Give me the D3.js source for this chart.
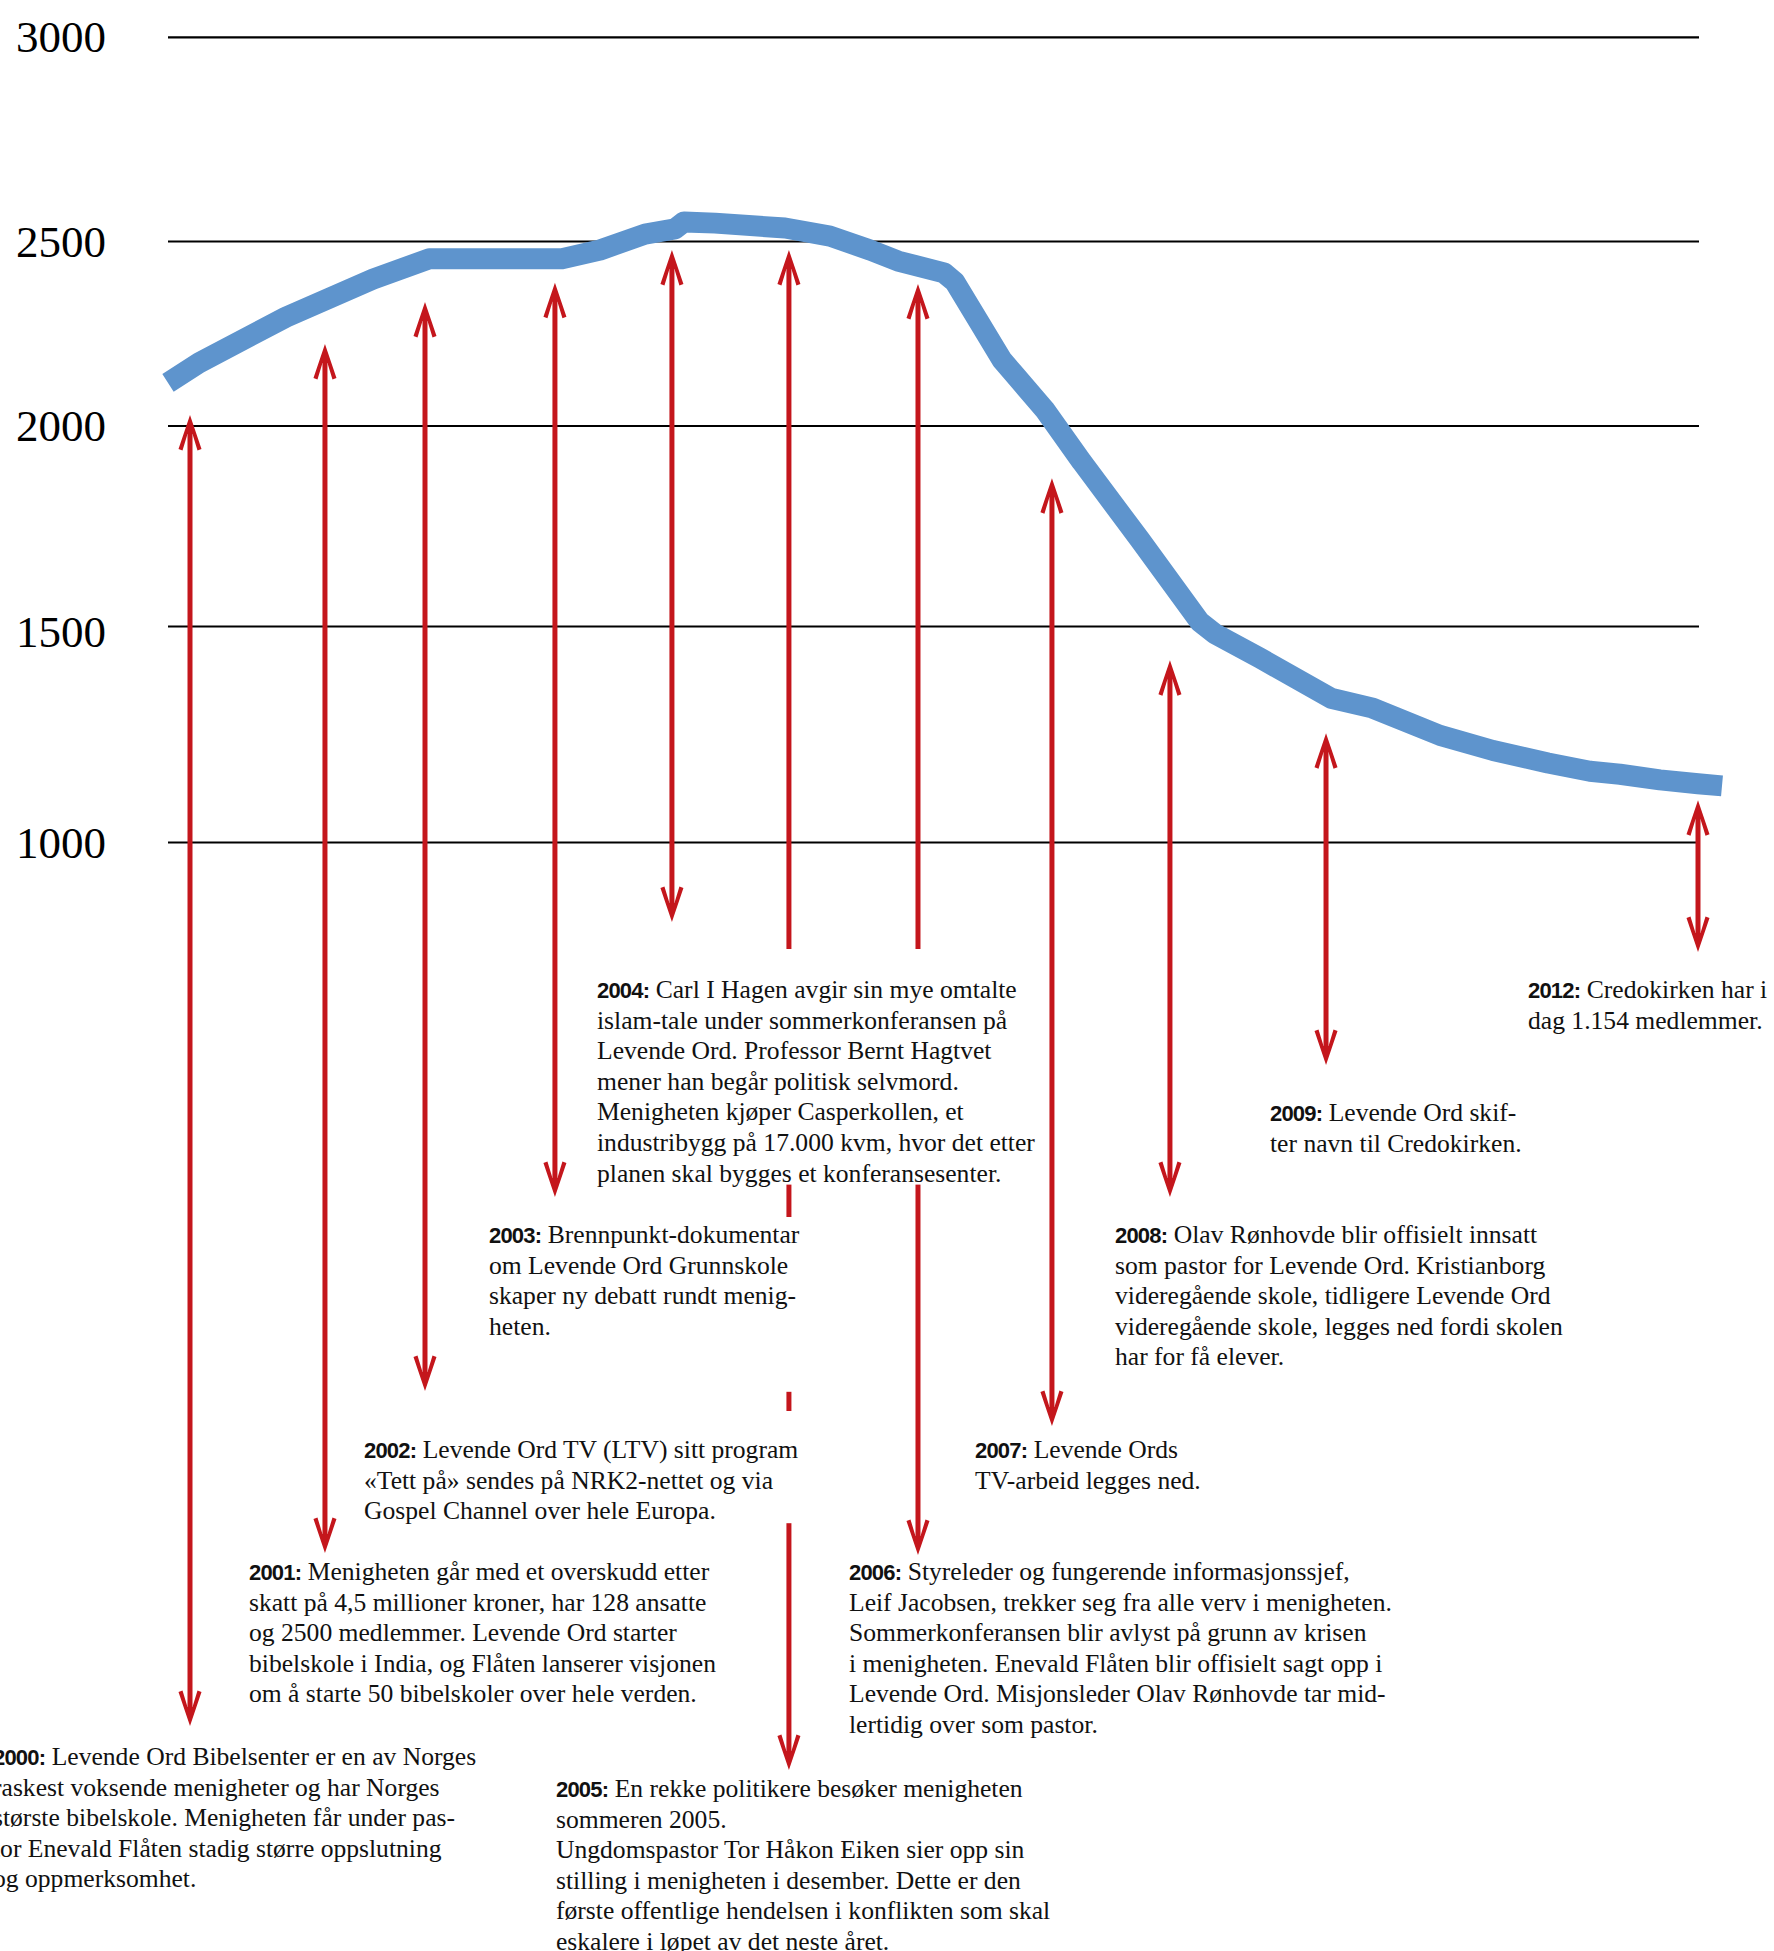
<!DOCTYPE html>
<html><head><meta charset="utf-8">
<script src="https://cdn.jsdelivr.net/npm/d3@7"></script>
<style>html,body{margin:0;padding:0;background:#fff;overflow:hidden}</style>
</head><body>
<svg id="chart" width="1774" height="1951"></svg>
<script>
// ---------------- DATA ----------------
const yTicks = [1000, 1500, 2000, 2500, 3000];

// membership curve (year, members)
const lineYears = [1999.825, 2000.072, 2000.764, 2001.456, 2001.902, 2002.960, 2003.263, 2003.621,
  2003.859, 2003.931, 2004.178, 2004.735, 2005.093, 2005.411, 2005.634, 2006.000, 2006.087,
  2006.270, 2006.461, 2006.557, 2006.804, 2007.098, 2007.560, 2008.037, 2008.156, 2008.514,
  2009.079, 2009.413, 2009.947, 2010.369, 2010.806, 2011.140, 2011.379, 2011.697, 2012.000, 2012.191];
const lineMembers = [2117, 2171, 2295, 2398, 2453, 2453, 2477, 2518,
  2531, 2548, 2545, 2533, 2513, 2477, 2447, 2415, 2390,
  2287, 2179, 2141, 2043, 1910, 1716, 1511, 1483, 1427,
  1334, 1311, 1248, 1213, 1184, 1165, 1158, 1145, 1136, 1131];

const eventYears = ["2000", "2001", "2002", "2003", "2004", "2005", "2006", "2007", "2008", "2009", "2012"];
// where each arrow stands on the time axis, and the member level its upper tip reaches
const arrowYears = [2000.000, 2001.074, 2001.870, 2002.904, 2003.835, 2004.766, 2005.793, 2006.859, 2007.798, 2009.040, 2012.000];
const arrowTopMembers = [2030, 2222, 2336, 2388, 2477, 2477, 2385, 1870, 1422, 1253, 1098];

const eventTexts = [
  ["Levende Ord Bibelsenter er en av Norges", "raskest voksende menigheter og har Norges", "største bibelskole. Menigheten får under pas-", "tor Enevald Flåten stadig større oppslutning", "og oppmerksomhet."],
  ["Menigheten går med et overskudd etter", "skatt på 4,5 millioner kroner, har 128 ansatte", "og 2500 medlemmer. Levende Ord starter", "bibelskole i India, og Flåten lanserer visjonen", "om å starte 50 bibelskoler over hele verden."],
  ["Levende Ord TV (LTV) sitt program", "«Tett på» sendes på NRK2-nettet og via", "Gospel Channel over hele Europa."],
  ["Brennpunkt-dokumentar", "om Levende Ord Grunnskole", "skaper ny debatt rundt menig-", "heten."],
  ["Carl I Hagen avgir sin mye omtalte", "islam-tale under sommerkonferansen på", "Levende Ord. Professor Bernt Hagtvet", "mener han begår politisk selvmord.", "Menigheten kjøper Casperkollen, et", "industribygg på 17.000 kvm, hvor det etter", "planen skal bygges et konferansesenter."],
  ["En rekke politikere besøker menigheten", "sommeren 2005.", "Ungdomspastor Tor Håkon Eiken sier opp sin", "stilling i menigheten i desember. Dette er den", "første offentlige hendelsen i konflikten som skal", "eskalere i løpet av det neste året."],
  ["Styreleder og fungerende informasjonssjef,", "Leif Jacobsen, trekker seg fra alle verv i menigheten.", "Sommerkonferansen blir avlyst på grunn av krisen", "i menigheten. Enevald Flåten blir offisielt sagt opp i", "Levende Ord. Misjonsleder Olav Rønhovde tar mid-", "lertidig over som pastor."],
  ["Levende Ords", "TV-arbeid legges ned."],
  ["Olav Rønhovde blir offisielt innsatt", "som pastor for Levende Ord.  Kristianborg", "videregående skole, tidligere Levende Ord", "videregående skole, legges ned fordi skolen", "har for få elever."],
  ["Levende Ord skif-", "ter navn til Credokirken."],
  ["Credokirken har i", "dag 1.154 medlemmer."]
];

// ---------------- LAYOUT ----------------
const W = 1774, H = 1951;
const textLeft   = [-7, 249, 364, 489, 597, 556, 849, 975, 1115, 1270, 1528];
const textTop    = [1765, 1580, 1458, 1243, 998, 1797, 1580, 1458, 1243, 1121, 998];
const arrowBottom = [1726, 1553, 1391, 1197, 922, 1770, 1555, 1426, 1197, 1065, 952];
const knockPad   = [null, null, [47, 4], [26, 57], [49, 3], null, null, null, null, null, null];
const LH = 30.6, GAP = 6.4;
const SERIF = "'Liberation Serif','Times New Roman',serif";
const SANSB = "'Liberation Sans',Arial,sans-serif";
const RED = "#c4161c", BLUE = "#5e94cd";

const svg = d3.select("#chart");
svg.append("rect").attr("width", W).attr("height", H).attr("fill", "#fff");

const x = d3.scaleLinear().domain([2000, 2012]).range([190, 1698]);
const y = d3.scaleLinear().domain(yTicks).range([842.5, 626.5, 426, 241.5, 37.3]);

// gridlines + labels
const grid = svg.append("g");
grid.selectAll("line").data(yTicks).join("line")
  .attr("x1", 168).attr("x2", 1699)
  .attr("y1", d => y(d)).attr("y2", d => y(d))
  .attr("stroke", "#000").attr("stroke-width", 2.2);
grid.selectAll("text").data(yTicks).join("text")
  .attr("x", 106).attr("y", d => y(d) + (d === 1500 ? 20 : 15))
  .attr("text-anchor", "end")
  .attr("font-family", SERIF).attr("font-size", 45).attr("fill", "#000")
  .text(d => d);

// membership line
const pts = lineYears.map((yr, i) => [yr, lineMembers[i]]);
svg.append("path").datum(pts)
  .attr("d", d3.line().x(d => x(d[0])).y(d => y(d[1])))
  .attr("fill", "none").attr("stroke", BLUE).attr("stroke-width", 21)
  .attr("stroke-linejoin", "round").attr("stroke-linecap", "butt");

// arrows
const ag = svg.append("g");
function head(cx, ty, dir) {
  const p = [[0, 0], [11.5, 34], [7.5, 35.5], [2.5, 19], [-2.5, 19], [-7.5, 35.5], [-11.5, 34]];
  return "M" + p.map(q => [cx + q[0], ty + dir * q[1]].join(",")).join("L") + "Z";
}
arrowYears.forEach((ay, i) => {
  const cx = x(ay), ty = y(arrowTopMembers[i]), by = arrowBottom[i];
  ag.append("line").attr("x1", cx).attr("x2", cx).attr("y1", ty + 18).attr("y2", by - 18)
    .attr("stroke", RED).attr("stroke-width", 5);
  ag.append("path").attr("d", head(cx, ty, 1)).attr("fill", RED);
  ag.append("path").attr("d", head(cx, by, -1)).attr("fill", RED);
});

// texts with knockouts
const kg = svg.append("g");
const tg = svg.append("g");
eventYears.forEach((yr, i) => {
  const blk = tg.append("g");
  const lab = blk.append("text")
    .attr("x", textLeft[i]).attr("y", textTop[i])
    .attr("font-family", SANSB).attr("font-weight", "bold").attr("font-size", 22)
    .attr("letter-spacing", -0.8)
    .attr("fill", "#111").text(yr + ":");
  const lw = lab.node().getComputedTextLength();
  blk.append("text")
    .attr("x", textLeft[i] + lw + GAP).attr("y", textTop[i])
    .attr("font-family", SERIF).attr("font-size", 25.6).attr("fill", "#111")
    .text(eventTexts[i][0]);
  const rest = blk.append("text").attr("font-family", SERIF).attr("font-size", 25.6).attr("fill", "#111");
  eventTexts[i].slice(1).forEach((ln, j) => {
    rest.append("tspan").attr("x", textLeft[i]).attr("y", textTop[i] + (j + 1) * LH).text(ln);
  });
  if (knockPad[i]) {
    const bb = blk.node().getBBox();
    const n = eventTexts[i].length;
    kg.append("rect")
      .attr("x", bb.x - 4).attr("width", bb.width + 8)
      .attr("y", textTop[i] - knockPad[i][0])
      .attr("height", (n - 1) * LH + knockPad[i][0] + knockPad[i][1])
      .attr("fill", "#fff");
  }
});
</script>
</body></html>
